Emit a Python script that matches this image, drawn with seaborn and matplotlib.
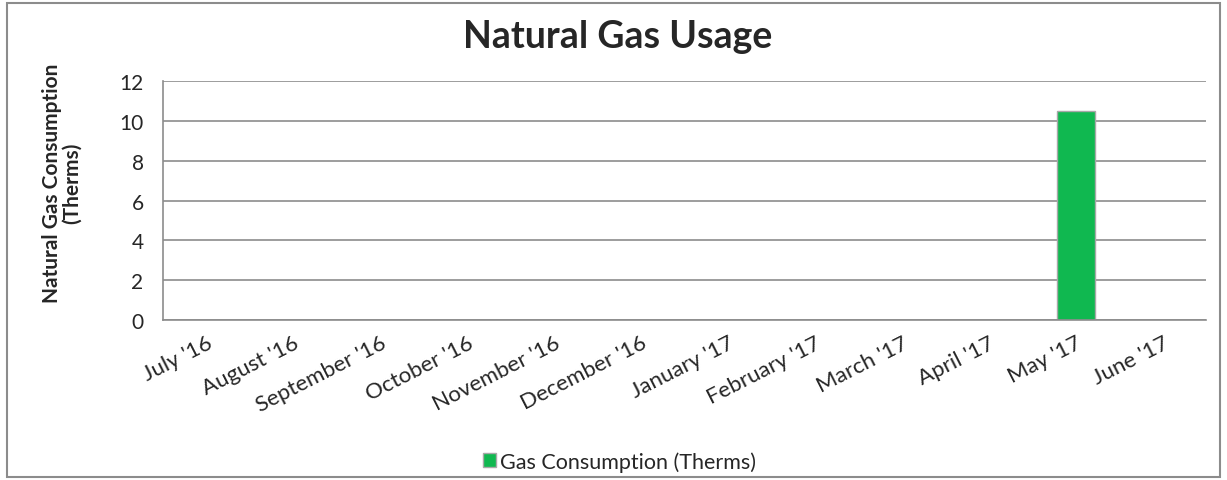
import pandas as pd
import matplotlib.pyplot as plt
import seaborn as sns
from matplotlib.patches import Rectangle

# Data
months = ["July '16", "August '16", "September '16", "October '16", "November '16",
          "December '16", "January '17", "February '17", "March '17", "April '17",
          "May '17", "June '17"]
therms = [0, 0, 0, 0, 0, 0, 0, 0, 0, 0, 10.5, 0]
series_name = 'Gas Consumption (Therms)'

df = pd.DataFrame({'month': months, 'therms': therms})

sns.set_style('white')
plt.rcParams['font.family'] = ['Lato', 'DejaVu Sans']

fig = plt.figure(figsize=(12.27, 4.81), dpi=100)
ax = fig.add_axes([0.1328, 0.3326, 0.8501, 0.4969])

sns.barplot(data=df, x='month', y='therms', color='#10B850', width=0.44,
            edgecolor='#A8A8A8', linewidth=1, saturation=1, ax=ax,
            label=series_name)

ax.set_ylim(0, 12)
ax.set_yticks(range(0, 13, 2))
ax.yaxis.grid(True, color='#8C8C8C', linewidth=1.2)
ax.set_axisbelow(True)
for side in ['top', 'right']:
    ax.spines[side].set_visible(False)
for side in ['left', 'bottom']:
    ax.spines[side].set_color('#8C8C8C')
    ax.spines[side].set_linewidth(1.2)
ax.tick_params(axis='y', length=6, color='#8C8C8C', width=1.2, labelsize=15, pad=8)
ax.tick_params(axis='x', length=0, labelsize=16, pad=9)
plt.setp(ax.get_xticklabels(), rotation=27, ha='right', rotation_mode='anchor')

ax.set_xlabel('')
ax.set_ylabel("Natural Gas Consumption\n(Therms)", fontsize=15, fontweight='bold',
              linespacing=1.0)
ax.yaxis.set_label_coords(-0.078, 0.577)
fig.text(0.503, 0.923, 'Natural Gas Usage', ha='center', va='center',
         fontsize=27, fontweight='bold')

leg = ax.legend(loc='center', bbox_to_anchor=(0.505, 0.039), bbox_transform=fig.transFigure,
                frameon=False, fontsize=15.5, handlelength=0.6, handleheight=0.6,
                handletextpad=0.2)

# chart border
fig.patches.append(Rectangle((0.006, 0.006), 0.988, 0.985, transform=fig.transFigure,
                             fill=False, edgecolor='#8C8C8C', linewidth=1.5))

plt.savefig('out.png', dpi=100)
